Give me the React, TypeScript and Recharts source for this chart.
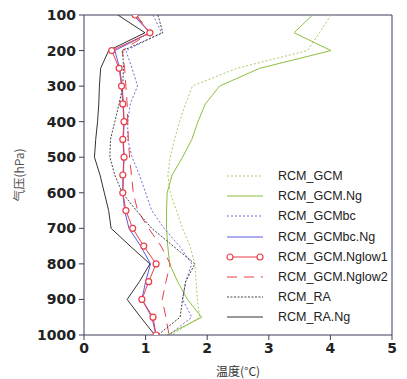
import React from 'react';
import { LineChart, Line, XAxis, YAxis, Legend, ReferenceLine } from 'recharts';

const levels = [100, 150, 200, 250, 300, 350, 400, 450, 500, 550, 600, 650, 700, 750, 800, 850, 900, 950, 1000];

const rcmGcm = [4.01, 3.82, 3.63, 2.48, 1.76, 1.65, 1.55, 1.47, 1.4, 1.36, 1.4, 1.5, 1.6, 1.72, 1.8, 1.82, 1.84, 1.88, 1.42];
const rcmGcmNg = [3.71, 3.41, 4.01, 2.85, 2.2, 1.97, 1.85, 1.75, 1.6, 1.43, 1.35, 1.34, 1.34, 1.36, 1.39, 1.52, 1.68, 1.91, 1.35];
const rcmGcmbc = [1.12, 1.26, 0.68, 0.78, 0.87, 0.75, 0.71, 0.71, 0.78, 0.9, 1.0, 1.1, 1.3, 1.55, 1.75, 1.65, 1.6, 1.75, 1.38];
const rcmGcmbcNg = [0.8, 1.07, 0.5, 0.58, 0.62, 0.64, 0.65, 0.64, 0.65, 0.64, 0.63, 0.66, 0.73, 0.92, 1.08, 1.0, 0.94, 1.1, 1.17];
const rcmGcmNglow1 = [0.83, 1.07, 0.45, 0.57, 0.61, 0.63, 0.65, 0.63, 0.65, 0.63, 0.63, 0.68, 0.79, 0.97, 1.17, 1.05, 0.94, 1.12, 1.17];
const rcmGcmNglow2 = [0.85, 1.07, 0.62, 0.66, 0.68, 0.7, 0.71, 0.72, 0.74, 0.77, 0.8, 0.87, 1.05, 1.25, 1.4, 1.33, 1.27, 1.33, 1.38];
const rcmRa = [1.2, 1.28, 0.63, 0.64, 0.63, 0.57, 0.5, 0.43, 0.42, 0.5, 0.62, 0.85, 1.1, 1.45, 1.8, 1.65, 1.6, 1.56, 1.2];
const rcmRaNg = [0.55, 0.99, 0.4, 0.27, 0.25, 0.24, 0.22, 0.19, 0.17, 0.26, 0.33, 0.4, 0.44, 0.75, 1.07, 0.9, 0.7, 0.92, 1.15];

const yTicks = [100, 200, 300, 400, 500, 600, 700, 800, 900, 1000];
const xTicks = [0, 1, 2, 3, 4, 5];

const AXIS = '#3b3f58';

const series = [
  { key: 'gcm', name: 'RCM_GCM', values: rcmGcm, color: '#a9cd5e', dash: '2 2', dot: false },
  { key: 'gcmNg', name: 'RCM_GCM.Ng', values: rcmGcmNg, color: '#8cbf3f', dash: undefined, dot: false },
  { key: 'gcmbc', name: 'RCM_GCMbc', values: rcmGcmbc, color: '#7468d8', dash: '2 2', dot: false },
  { key: 'gcmbcNg', name: 'RCM_GCMbc.Ng', values: rcmGcmbcNg, color: '#5a5ae6', dash: undefined, dot: false },
  { key: 'nglow1', name: 'RCM_GCM.Nglow1', values: rcmGcmNglow1, color: '#ea3f48', dash: undefined, dot: true },
  { key: 'nglow2', name: 'RCM_GCM.Nglow2', values: rcmGcmNglow2, color: '#ea3f48', dash: '10 7', dot: false },
  { key: 'ra', name: 'RCM_RA', values: rcmRa, color: '#444444', dash: '2 1.5', dot: false },
  { key: 'raNg', name: 'RCM_RA.Ng', values: rcmRaNg, color: '#333333', dash: undefined, dot: false },
];

const data = levels.map((p, i) => {
  const row: any = { p };
  series.forEach(s => { row[s.key] = s.values[i]; });
  return row;
});

const renderLegend = () => (
  <div style={{ fontFamily: '"Liberation Sans", Arial, sans-serif', fontSize: 12.5, color: '#222' }}>
    {series.map(s => (
      <div key={s.key} style={{ display: 'flex', alignItems: 'center', height: 20.2 }}>
        <svg width={38} height={20} style={{ display: 'block' }}>
          <line x1={1} y1={10} x2={37} y2={10} stroke={s.color} strokeWidth={1} strokeDasharray={s.dash} />
          {s.dot && <circle cx={4} cy={10} r={3} stroke={s.color} fill="#fff" strokeWidth={1.2} />}
          {s.dot && <circle cx={34} cy={10} r={3} stroke={s.color} fill="#fff" strokeWidth={1.2} />}
        </svg>
        <span style={{ marginLeft: 14, whiteSpace: 'nowrap' }}>{s.name}</span>
      </div>
    ))}
  </div>
);

const tickStyle = { fontFamily: '"DejaVu Sans", sans-serif', fontSize: 14, fontWeight: 700, fill: '#222' };

export default function App() {
  return (
    <LineChart
      width={399}
      height={371}
      data={data}
      layout="vertical"
      margin={{ top: 7, right: 15, bottom: 3, left: 0 }}
    >
      <XAxis
        type="number"
        dataKey="gcm"
        domain={[0, 5]}
        ticks={xTicks}
        interval={0}
        allowDataOverflow
        height={41}
        stroke={AXIS}
        tickSize={5}
        tickMargin={3}
        tick={tickStyle}
        label={{ value: '温度(°C)', position: 'insideBottom', offset: 0, style: { fontSize: 12, fill: '#333', fontFamily: '"Noto Sans CJK SC", sans-serif' } }}
      />
      <YAxis
        type="number"
        dataKey="p"
        domain={[100, 1000]}
        ticks={yTicks}
        interval={0}
        allowDataOverflow
        width={76}
        stroke={AXIS}
        tickSize={5}
        tickMargin={3}
        tick={tickStyle}
        label={{ value: '气压(hPa)', angle: -90, position: 'insideLeft', offset: 12, style: { textAnchor: 'middle', fontSize: 12, fill: '#555', fontFamily: '"Noto Sans CJK SC", sans-serif' } }}
      />
      <ReferenceLine y={100} stroke={AXIS} strokeWidth={1} />
      <ReferenceLine x={5} stroke={AXIS} strokeWidth={1} />
      {series.map(s => (
        <Line
          key={s.key}
          dataKey={s.key}
          name={s.name}
          type="linear"
          stroke={s.color}
          strokeWidth={1}
          strokeDasharray={s.dash}
          dot={s.dot ? { r: 3, stroke: s.color, fill: '#fff', strokeWidth: 1.2 } : false}
          activeDot={false}
          isAnimationActive={false}
        />
      ))}
      <Legend
        layout="vertical"
        align="center"
        verticalAlign="middle"
        content={renderLegend}
        wrapperStyle={{ left: 218, top: 158, width: 175 }}
      />
    </LineChart>
  );
}
